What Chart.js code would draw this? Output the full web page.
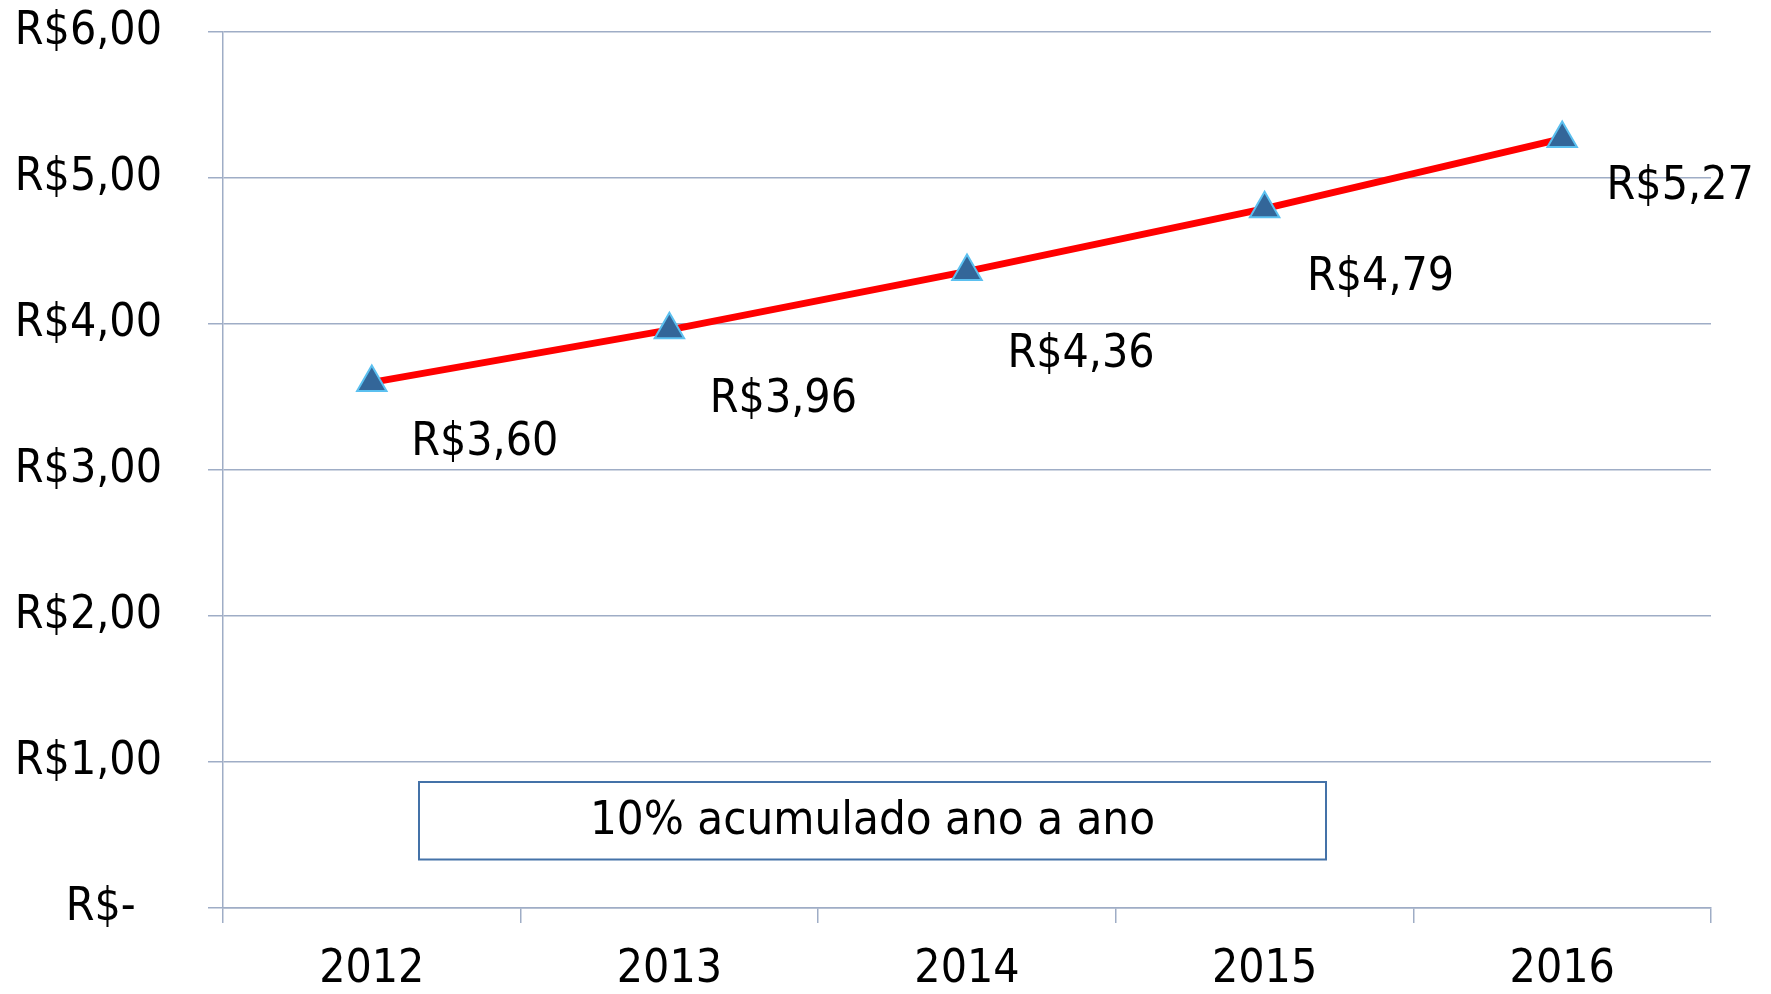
<!DOCTYPE html>
<html>
<head>
<meta charset="utf-8">
<script src="https://cdn.jsdelivr.net/npm/chart.js@4.4.1/dist/chart.umd.min.js"></script>
<style>
  html, body { margin: 0; padding: 0; background: #ffffff; }
  #wrap { width: 1771px; height: 994px; position: relative; }
</style>
</head>
<body>
<div id="wrap"><canvas id="c" width="1771" height="994"></canvas></div>
<script>
const categories = ['2012', '2013', '2014', '2015', '2016'];
const values = [3.60, 3.96, 4.36, 4.79, 5.27];
const valueLabels = ['R$3,60', 'R$3,96', 'R$4,36', 'R$4,79', 'R$5,27'];
const yTickLabels = ['R$-  ', 'R$1,00', 'R$2,00', 'R$3,00', 'R$4,00', 'R$5,00', 'R$6,00'];
const noteText = '10% acumulado ano a ano';

const FONT = '"DejaVu Sans Condensed", "DejaVu Sans", sans-serif';
const GRID = '#9FADC6';

const labelPlugin = {
  id: 'valueLabels',
  afterDatasetsDraw(chart, args, opts) {
    const ctx = chart.ctx;
    const meta = chart.getDatasetMeta(0);
    ctx.save();
    ctx.font = '46px ' + FONT;
    ctx.fillStyle = '#000000';
    ctx.textAlign = 'center';
    ctx.textBaseline = 'middle';
    meta.data.forEach((pt, i) => {
      ctx.fillText(valueLabels[i], pt.x + opts.dx[i], pt.y + opts.dy[i]);
    });
    ctx.restore();
  }
};

const notePlugin = {
  id: 'noteBox',
  afterDraw(chart) {
    const ctx = chart.ctx;
    const x0 = 419, y0 = 782, x1 = 1326, y1 = 859.5;
    ctx.save();
    ctx.fillStyle = '#ffffff';
    ctx.fillRect(x0, y0, x1 - x0, y1 - y0);
    ctx.strokeStyle = '#4472A8';
    ctx.lineWidth = 2;
    ctx.strokeRect(x0, y0, x1 - x0, y1 - y0);
    ctx.font = '47px ' + FONT;
    ctx.fillStyle = '#000000';
    ctx.textAlign = 'center';
    ctx.textBaseline = 'middle';
    ctx.fillText(noteText, (x0 + x1) / 2, (y0 + y1) / 2 + 1);
    ctx.restore();
  }
};

new Chart(document.getElementById('c'), {
  type: 'line',
  data: {
    labels: categories,
    datasets: [{
      data: values,
      borderColor: '#FF0000',
      borderWidth: 7,
      tension: 0,
      fill: false,
      pointStyle: 'triangle',
      pointRadius: 17,
      pointHoverRadius: 17,
      pointBackgroundColor: '#336699',
      pointBorderColor: '#5BC0F0',
      pointBorderWidth: 2
    }]
  },
  options: {
    responsive: false,
    animation: false,
    devicePixelRatio: 1,
    layout: { padding: { top: 32, right: 60, left: 0, bottom: 0 } },
    plugins: {
      legend: { display: false },
      tooltip: { enabled: false },
      valueLabels: { dx: [113, 114, 114, 116, 118], dy: [61, 70, 84, 69, 48] }
    },
    scales: {
      x: {
        type: 'category',
        offset: true,
        grid: {
          offset: true,
          drawOnChartArea: false,
          drawTicks: true,
          tickLength: 15,
          color: GRID,
          lineWidth: 1.5
        },
        border: { display: true, color: GRID, width: 1.5 },
        ticks: {
          color: '#000000',
          font: { family: FONT, size: 46 },
          padding: 19,
          maxRotation: 0
        },
        afterFit(scale) { scale.height = 86; }
      },
      y: {
        min: 0,
        max: 6,
        grid: {
          drawTicks: true,
          tickLength: 15,
          color: GRID,
          lineWidth: 1.5
        },
        border: { display: true, color: GRID, width: 1.5 },
        ticks: {
          stepSize: 1,
          color: '#000000',
          font: { family: FONT, size: 46 },
          padding: 46,
          callback: (v) => yTickLabels[Math.round(v)]
        },
        afterFit(scale) {
          scale.width = 223;
          scale.paddingTop = 0;
          scale.paddingBottom = 0;
        }
      }
    }
  },
  plugins: [labelPlugin, notePlugin]
});
</script>
</body>
</html>
